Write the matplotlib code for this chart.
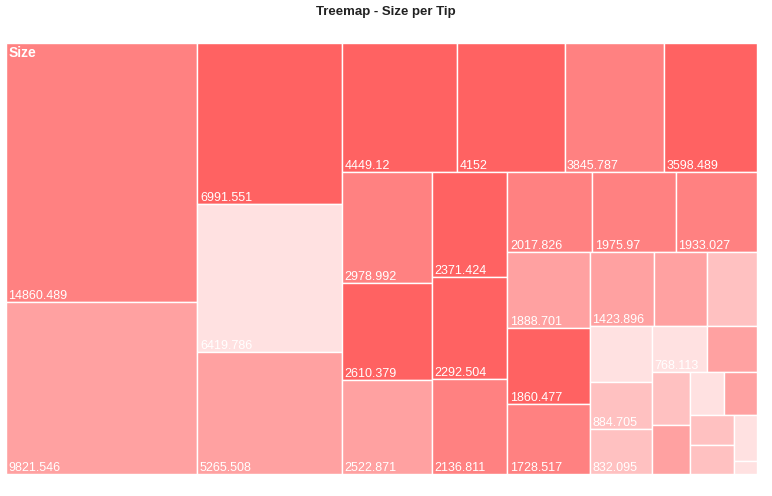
import matplotlib
matplotlib.use("Agg")
import matplotlib.pyplot as plt
from matplotlib.patches import Rectangle

plt.rcParams["font.family"] = ["Liberation Sans", "DejaVu Sans"]

# values per tip (area), sorted as drawn
sizes = [14860.489, 9821.546, 6991.551, 6419.786, 5265.508, 4449.12, 4152,
         3845.787, 3598.489, 2978.992, 2610.379, 2522.871, 2371.424, 2292.504,
         2136.811, 2017.826, 1975.97, 1933.027, 1888.701, 1860.477, 1728.517,
         1423.896, 1185, 1117, 1032, 884.705, 832.095, 768.113, 695, 608, 562,
         431, 419, 392, 388, 312, 86]
# colour band of each cell (1 = strongest)
bands = [2, 3, 1, 5, 3, 1, 1, 2, 1, 2, 1, 3, 1, 1, 2, 2, 2, 2, 3, 1, 2,
         3, 3, 4, 5, 4, 4, 5, 3, 4, 3, 5, 3, 4, 4, 5, 5]
band_colors = {1: "#ff6262", 2: "#ff8181", 3: "#ffa1a1", 4: "#ffc1c1", 5: "#ffe1e1"}


def worst(row, side):
    s = sum(row)
    return max(max(side * side * r / (s * s), s * s / (side * side * r)) for r in row)


def squarify(areas, x, y, w, h):
    rects = []
    areas = list(areas)
    while areas:
        side = min(w, h)
        row = [areas.pop(0)]
        while areas and worst(row + [areas[0]], side) <= worst(row, side):
            row.append(areas.pop(0))
        s = sum(row)
        if w >= h:
            cw = s / h
            cy = y
            for a in row:
                ch = a / cw
                rects.append((x, cy, cw, ch))
                cy += ch
            x += cw
            w -= cw
        else:
            ch = s / w
            cx = x
            for a in row:
                cw = a / ch
                rects.append((cx, y, cw, ch))
                cx += cw
            y += ch
            h -= ch
    return rects


def fmt(v):
    return ("%.3f" % v).rstrip("0").rstrip(".")


W, H = 751, 431
total = sum(sizes)
areas = [v * W * H / total for v in sizes]
rects = squarify(areas, 0, 0, W, H)

fig = plt.figure(figsize=(7.72, 4.96), dpi=100)
ax = fig.add_axes([6 / 772, 22 / 496, W / 772, H / 496])
ax.set_xlim(0, W)
ax.set_ylim(H, 0)
ax.axis("off")

fig.canvas.draw()
renderer = fig.canvas.get_renderer()

for (x, y, w, h), v, b in zip(rects, sizes, bands):
    ax.add_patch(Rectangle((x, y), w, h, facecolor=band_colors[b],
                           edgecolor="white", linewidth=1.0))
    # a label is kept only when the full 3-decimal value fits the cell
    probe = ax.text(0, 0, "%.3f" % v, fontsize=9)
    pw = probe.get_window_extent(renderer).width
    ph = probe.get_window_extent(renderer).height
    probe.remove()
    if pw <= 0.835 * w and ph + 6 <= h:
        ax.text(x + 2.5, y + h - 3, fmt(v), color="white", fontsize=9,
                ha="left", va="baseline")

ax.text(3, 3, "Size", color="white", fontsize=10, fontweight="bold",
        ha="left", va="top")

fig.text(0.5, 1 - 12 / 496, "Treemap - Size per Tip", ha="center", va="center",
         fontsize=9.5, fontweight="bold", color="#222222")

fig.savefig("out.png", dpi=100)
